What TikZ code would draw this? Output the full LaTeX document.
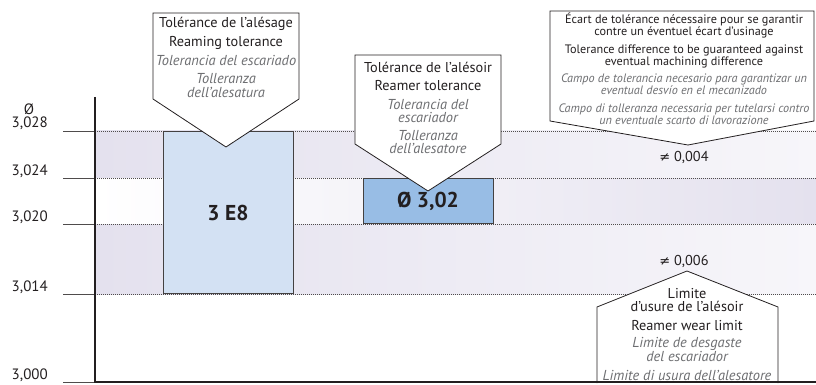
\documentclass[tikz,border=0pt]{standalone}
\usepackage{fontspec}
\setmainfont{PT Sans}
\newfontfamily\symfont{DejaVu Sans}
\usepackage{xcolor}
\usepackage{tikz}
\usetikzlibrary{positioning}

\definecolor{ink}{HTML}{231F20}
\definecolor{grey}{HTML}{6D6E71}
\definecolor{lav}{HTML}{E4E1EE}
\definecolor{lavpale}{HTML}{F7F6FA}
\definecolor{boxlight}{HTML}{D3E1F3}
\definecolor{boxdark}{HTML}{98BDE5}

\tikzset{
  txt/.style={inner sep=0pt, anchor=base, text=ink, font=\fontsize{14.3}{15}\selectfont},
  itx/.style={txt, text=grey, font=\fontsize{14.4}{15}\selectfont\itshape},
  stx/.style={txt, font=\fontsize{12.2}{13}\selectfont},
  sit/.style={itx, font=\fontsize{12.2}{13}\selectfont\itshape},
  num/.style={inner sep=0pt, anchor=base east, text=ink, font=\fontsize{15}{16}\selectfont},
  bar/.style={draw=ink!85, line width=0.8pt, inner sep=0pt, text=ink, font=\fontsize{21.5}{22}\selectfont\bfseries},
  callout/.style={draw=ink, fill=white, line width=0.8pt, line join=miter},
  grid/.style={ink!80, line width=0.5pt, dash pattern=on 1.2pt off 0.8pt},
  tick/.style={ink!80, line width=0.8pt},
  axis/.style={ink, line width=2pt}
}

\begin{document}
\begin{tikzpicture}[x=1pt, y=-1pt]
    \useasboundingbox (0,0) rectangle (816,385);
    \shade[left color=lav, right color=lavpale] (95,131) rectangle (816,178);
    \shade[left color=white, right color=lav] (95,178) rectangle (816,224);
    \shade[left color=lav, right color=lavpale] (95,224) rectangle (816,294);
    \foreach \y/\v in {131/{3,028}, 178/{3,024}, 224/{3,020}, 294/{3,014}, 382/{3,000}} {
        \draw[tick] (63,\y) -- (95,\y);
        \node[num] (lab\y) at (48,\y-3) {\v};
    }
    \foreach \y in {131, 178, 224, 294}
        \draw[grid] (95,\y) -- (816,\y);
    \node[num, anchor=base] (dia) at (29,114) {Ø};

    \node[bar, fill=boxlight, minimum width=130, minimum height=162] (e8) at (228,212.5) {3 E8};
    \node[bar, fill=boxdark, minimum width=130, minimum height=45] (reamer) at (428,201) {Ø 3,02};

    \draw[callout] (153,13) -- (299,13) -- (299,99) -- (226,147) -- (153,99) -- cycle;
    \node[txt] (bore1) at (226,28) {Tolérance de l'alésage};
    \node[txt] (bore2) at (226,47) {Reaming tolerance};
    \node[itx] (bore3) at (226,65.5) {Tolerancia del escariado};
    \node[itx] (bore4) at (226,84) {Tolleranza};
    \node[itx] (bore5) at (226,97.5) {dell'alesatura};

    \draw[callout] (355,55) -- (501,55) -- (501,144) -- (428,191) -- (355,144) -- cycle;
    \node[txt] (tool1) at (428,73) {Tolérance de l'alésoir};
    \node[txt] (tool2) at (428,91) {Reamer tolerance};
    \node[itx] (tool3) at (428,109.5) {Tolerancia del};
    \node[itx] (tool4) at (428,122.5) {escariador};
    \node[itx] (tool5) at (428,140.5) {Tolleranza};
    \node[itx] (tool6) at (428,153.5) {dell'alesatore};

    \draw[callout] (550,11) -- (814,11) -- (814,121) -- (688,145) -- (550,121) -- cycle;
    \node[stx] (gap1) at (684,24) {Écart de tolérance nécessaire pour se garantir};
    \node[stx] (gap2) at (684,36) {contre un éventuel écart d'usinage};
    \node[stx] (gap3) at (684,54) {Tolerance difference to be guaranteed against};
    \node[stx] (gap4) at (684,66) {eventual machining difference};
    \node[sit] (gap5) at (684,83) {Campo de tolerancia necesario para garantizar un};
    \node[sit] (gap6) at (684,95) {eventual desvío en el mecanizado};
    \node[sit] (gap7) at (684,113) {Campo di tolleranza necessaria per tutelarsi contro};
    \node[sit] (gap8) at (684,124.5) {un eventuale scarto di lavorazione};
    \node[txt] (d4) at (684,161) {{\symfont\fontsize{13}{14}\selectfont ≠} 0,004};
    \node[txt] (d6) at (684,265) {{\symfont\fontsize{13}{14}\selectfont ≠} 0,006};

    \path[callout] (597,383) -- (597,307) -- (687,271) -- (778,307) -- (778,383);
    \node[txt] (wear1) at (687,298.5) {Limite};
    \node[txt] (wear2) at (687,311.5) {d'usure de l'alésoir};
    \node[txt] (wear3) at (687,330) {Reamer wear limit};
    \node[itx] (wear4) at (687,347.5) {Limite de desgaste};
    \node[itx] (wear5) at (687,361) {del escariador};
    \node[itx] (wear6) at (687,380) {Limite di usura dell'alesatore};

    \draw[axis] (95,97) -- (95,382) -- (816,382);
\end{tikzpicture}
\end{document}
